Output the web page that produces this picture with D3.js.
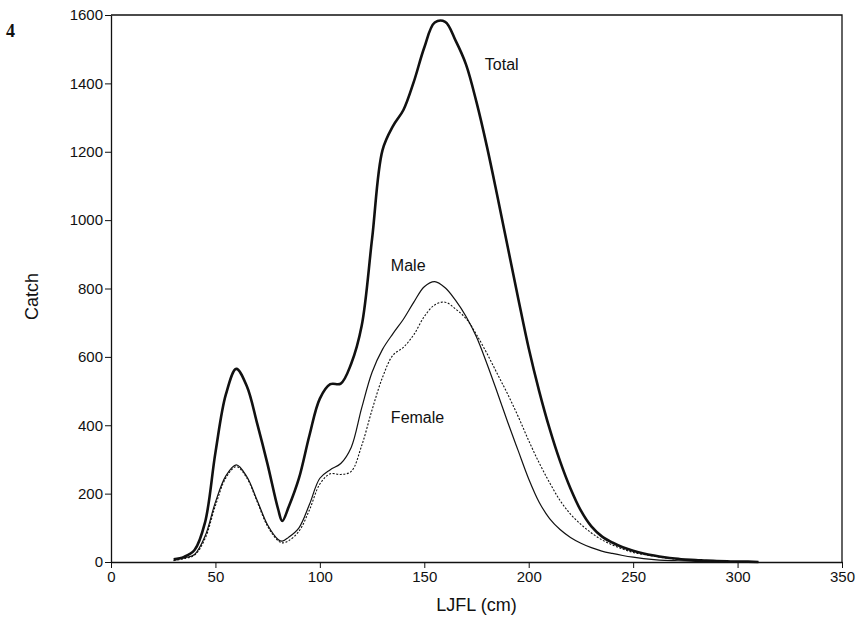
<!DOCTYPE html>
<html>
<head>
<meta charset="utf-8">
<script src="https://cdn.jsdelivr.net/npm/d3@7"></script>
<style>
  body { margin: 0; background: #fff; }
  text { font-family: "Liberation Sans", Arial, sans-serif; fill: #111; }
  .axis path, .axis line { stroke: #111; }
</style>
</head>
<body>
<div id="chart"></div>
<script>
// lower jaw fork length (cm)
const lengths = [30, 35, 40, 45, 50, 55, 60, 65, 70, 75, 80, 82, 85, 90, 95, 100, 105, 110, 115, 120,
  125, 130, 135, 140, 145, 150, 155, 160, 165, 170, 175, 180, 185, 190, 195, 200, 205, 210, 215, 220,
  225, 230, 235, 240, 245, 250, 255, 260, 265, 270, 275, 280, 285, 290, 295, 300, 305, 310];

const total = [8, 15, 35, 115, 320, 490, 565, 515, 405, 285, 155, 120, 160, 245, 370, 478, 520, 522, 580, 690,
  945, 1205, 1275, 1322, 1405, 1505, 1578, 1580, 1525, 1455, 1345, 1215, 1070, 920, 770, 625, 500, 390, 295, 215,
  150, 104, 75, 57, 43, 33, 25, 19, 14, 10, 7, 6, 4, 3, 2, 1, 1, 0];

const male = [5, 12, 22, 75, 175, 252, 284, 250, 180, 108, 66, 61, 72, 100, 168, 245, 270, 288, 335, 450,
  555, 622, 668, 710, 760, 805, 820, 802, 765, 718, 658, 580, 495, 408, 325, 243, 175, 127, 95, 72,
  55, 42, 32, 25, 19, 14, 10, 7, 5, 4, 3, 2, 1, 1, 0, 0, 0, 0];

const female = [4, 10, 20, 68, 165, 246, 279, 246, 176, 104, 62, 56, 62, 90, 152, 228, 258, 256, 265, 340,
  445, 540, 605, 628, 665, 718, 752, 760, 740, 712, 665, 610, 550, 490, 425, 355, 290, 232, 180, 140,
  110, 85, 65, 50, 38, 28, 22, 17, 12, 9, 6, 4, 3, 2, 1, 1, 0, 0];

const xTicks = [0, 50, 100, 150, 200, 250, 300, 350];
const yTicks = [0, 200, 400, 600, 800, 1000, 1200, 1400, 1600];

const margin = { top: 15, right: 26, bottom: 61, left: 111 };
const width = 868 - margin.left - margin.right;
const height = 623 - margin.top - margin.bottom;

const root = d3.select("#chart")
    .append("svg")
    .attr("width", 868)
    .attr("height", 623);

const svg = root.append("g")
    .attr("transform", `translate(${margin.left},${margin.top})`);

const x = d3.scaleLinear().domain([0, 350]).range([0, width]);
const y = d3.scaleLinear().domain([0, 1600]).range([height, 0]);

// frame (top and right sides)
svg.append("path")
    .attr("d", `M0,0H${x(350)}V${height}`)
    .attr("fill", "none")
    .attr("stroke", "#111")
    .attr("stroke-width", 1.3);

// axes
svg.append("g")
    .attr("class", "axis")
    .attr("transform", `translate(0,${height})`)
    .call(d3.axisBottom(x).tickValues(xTicks).tickFormat(d3.format("d")).tickSize(6).tickPadding(3).tickSizeOuter(0))
    .call(g => g.selectAll("text").style("font-size", "15px"));

svg.append("g")
    .attr("class", "axis")
    .call(d3.axisLeft(y).tickValues(yTicks).tickFormat(d3.format("d")).tickSize(6).tickPadding(2).tickSizeOuter(0))
    .call(g => g.selectAll("text").style("font-size", "15px"));

svg.selectAll(".axis path").attr("stroke-width", 1.3);

// curves
const series = [
    { name: "Total", values: total, width: 2.6, dash: null },
    { name: "Male", values: male, width: 1.2, dash: null },
    { name: "Female", values: female, width: 1.1, dash: "2,1.6" }
];

const line = d3.line()
    .x(d => x(d[0]))
    .y(d => y(d[1]))
    .curve(d3.curveCatmullRom.alpha(0.5));

series.forEach(s => {
    svg.append("path")
        .datum(lengths.map((l, i) => [l, s.values[i]]))
        .attr("d", line)
        .attr("fill", "none")
        .attr("stroke", "#111")
        .attr("stroke-width", s.width)
        .attr("stroke-dasharray", s.dash)
        .attr("stroke-linejoin", "round");
});

// curve labels
svg.append("text").attr("x", x(179)).attr("y", y(1440)).style("font-size", "16px").text("Total");
svg.append("text").attr("x", x(134)).attr("y", y(850)).style("font-size", "16px").text("Male");
svg.append("text").attr("x", x(134)).attr("y", y(408)).style("font-size", "16px").text("Female");

// axis titles
svg.append("text")
    .attr("x", x(175))
    .attr("y", height + 49)
    .style("text-anchor", "middle")
    .style("font-size", "18px")
    .text("LJFL (cm)");

svg.append("text")
    .attr("transform", "rotate(-90)")
    .attr("x", -(y(800) + 8))
    .attr("y", -73)
    .style("text-anchor", "middle")
    .style("font-size", "18px")
    .text("Catch");

// panel number
root.append("text")
    .attr("x", 6)
    .attr("y", 37)
    .style("font-family", "'Liberation Serif', 'Times New Roman', serif")
    .style("font-weight", "bold")
    .style("font-size", "18px")
    .text("4");
</script>
</body>
</html>
